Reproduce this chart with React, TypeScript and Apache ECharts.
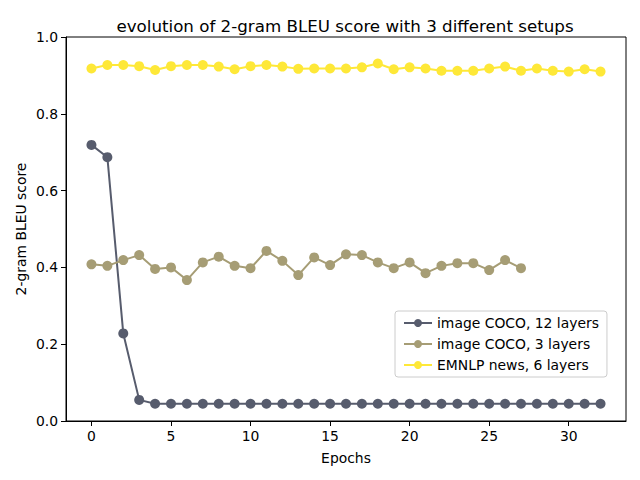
import React, { useEffect, useRef } from "react";
import * as echarts from "echarts";

const epochs12 = Array.from({ length: 33 }, (_, i) => i);
const epochs3 = Array.from({ length: 28 }, (_, i) => i);

const coco12 = [
  0.719, 0.687, 0.228, 0.055, 0.045, 0.045, 0.045, 0.045, 0.045, 0.045, 0.045,
  0.045, 0.045, 0.045, 0.045, 0.045, 0.045, 0.045, 0.045, 0.045, 0.045, 0.045,
  0.045, 0.045, 0.045, 0.045, 0.045, 0.045, 0.045, 0.045, 0.045, 0.045, 0.045,
];
const coco3 = [
  0.408, 0.404, 0.419, 0.432, 0.396, 0.400, 0.367, 0.413, 0.428, 0.404, 0.398,
  0.443, 0.417, 0.380, 0.426, 0.406, 0.434, 0.432, 0.413, 0.398, 0.413, 0.385,
  0.404, 0.411, 0.411, 0.393, 0.419, 0.398,
];
const emnlp6 = [
  0.918, 0.927, 0.927, 0.924, 0.914, 0.924, 0.927, 0.927, 0.923, 0.916, 0.924,
  0.927, 0.923, 0.917, 0.918, 0.918, 0.918, 0.921, 0.931, 0.916, 0.921, 0.918,
  0.912, 0.912, 0.912, 0.918, 0.923, 0.912, 0.918, 0.912, 0.910, 0.916, 0.910,
];
const xTicks = [0, 5, 10, 15, 20, 25, 30];
const seriesNames = ["image COCO, 12 layers", "image COCO, 3 layers", "EMNLP news, 6 layers"];
const colors = ["#575C6D", "#A69D75", "#FEE838"];

const FONT = "DejaVu Sans";
const FS = 13.9;

export default function App() {
  const ref = useRef<HTMLDivElement>(null);
  useEffect(() => {
    if (!ref.current) return;
    const chart = echarts.init(ref.current, undefined, { renderer: "svg" });
    const mk = (name: string, xs: number[], ys: number[], color: string) => ({
      name,
      type: "line",
      data: xs.map((x, i) => [x, ys[i]]),
      symbol: "circle",
      symbolSize: 10,
      showSymbol: true,
      lineStyle: { color, width: 2 },
      itemStyle: { color },
      emphasis: { disabled: true },
    });
    chart.setOption({
      animation: false,
      backgroundColor: "#fff",
      textStyle: { fontFamily: FONT },
      title: {
        text: "evolution of 2-gram BLEU score with 3 different setups",
        left: 340,
        textAlign: "center",
        top: 12,
        textStyle: { fontFamily: FONT, fontSize: 16.7, fontWeight: "normal", color: "#000" },
      },
      grid: {
        left: 66,
        right: 14,
        top: 37,
        bottom: 59,
        show: true,
        borderColor: "#000",
        borderWidth: 1,
        backgroundColor: "transparent",
      },
      legend: {
        orient: "vertical",
        left: 395,
        top: 311,
        itemWidth: 28,
        itemHeight: 10,
        itemGap: 7,
        padding: [5, 8, 5, 8],
        backgroundColor: "rgba(255,255,255,0.8)",
        borderColor: "#cccccc",
        borderWidth: 1,
        borderRadius: 3,
        textStyle: { fontFamily: FONT, fontSize: FS, color: "#000" },
        data: seriesNames,
      },
      xAxis: {
        type: "value",
        min: -1.6,
        max: 33.6,
        name: "Epochs",
        nameLocation: "middle",
        nameGap: 30,
        nameMoveOverlap: false,
        nameTextStyle: { fontFamily: FONT, fontSize: FS, color: "#000" },
        axisLine: { show: true, onZero: false, lineStyle: { color: "#000", width: 1 } },
        axisTick: { show: true, customValues: xTicks, length: 5, lineStyle: { color: "#000" } },
        axisLabel: {
          customValues: xTicks,
          fontFamily: FONT,
          fontSize: FS,
          color: "#000",
          margin: 8,
        },
        splitLine: { show: false },
      },
      yAxis: {
        type: "value",
        min: 0,
        max: 1,
        interval: 0.2,
        name: "2-gram BLEU score",
        nameLocation: "middle",
        nameGap: 38,
        nameMoveOverlap: false,
        nameRotate: 90,
        nameTextStyle: { fontFamily: FONT, fontSize: FS, color: "#000" },
        axisLine: { show: true, onZero: false, lineStyle: { color: "#000", width: 1 } },
        axisTick: { show: true, length: 5, lineStyle: { color: "#000" } },
        axisLabel: {
          fontFamily: FONT,
          fontSize: FS,
          color: "#000",
          margin: 8,
          formatter: (v: number) => v.toFixed(1),
        },
        splitLine: { show: false },
      },
      series: [
        mk(seriesNames[0], epochs12, coco12, colors[0]),
        mk(seriesNames[1], epochs3, coco3, colors[1]),
        mk(seriesNames[2], epochs12, emnlp6, colors[2]),
      ],
    });
    return () => chart.dispose();
  }, []);
  return <div ref={ref} style={{ width: 640, height: 480, position: "absolute", left: 0, top: 0 }} />;
}
